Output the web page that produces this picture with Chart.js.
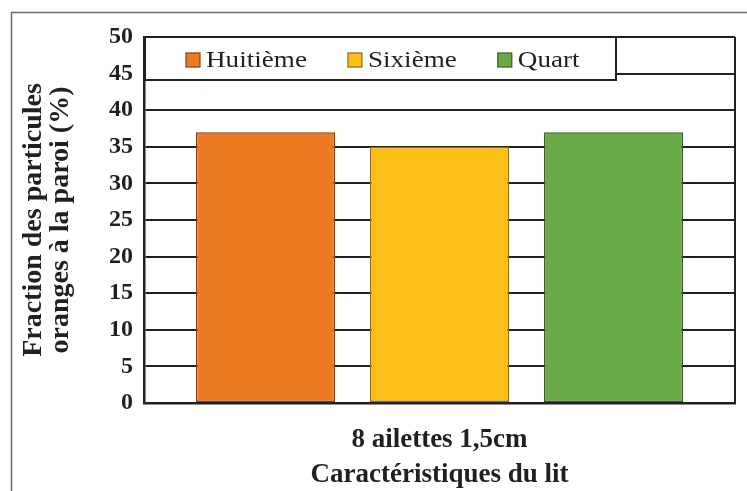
<!DOCTYPE html>
<html>
<head>
<meta charset="utf-8">
<script src="https://cdn.jsdelivr.net/npm/chart.js@4"></script>
<style>
  body { margin: 0; background: #fff; }
  canvas { display: block; }
</style>
</head>
<body>
<canvas id="fractionChart" width="747" height="491"></canvas>
<script>
// data
const categories = ["8 ailettes 1,5cm"];
const seriesNames = ["Huitième", "Sixième", "Quart"];
const huitieme = [37];
const sixieme = [35];
const quart = [37];
const yTitleLines = ["Fraction des particules", "oranges à la paroi (%)"];
const xTitle = "Caractéristiques du lit";

const ink = "#231f20";

// outer frame (left + top edges of the figure box)
const framePlugin = {
    id: "frame",
    beforeDraw(chart) {
        const ctx = chart.ctx;
        ctx.save();
        ctx.strokeStyle = "#6b6b6b";
        ctx.lineWidth = 1.5;
        ctx.beginPath();
        ctx.moveTo(11.5, 491);
        ctx.lineTo(11.5, 12.5);
        ctx.lineTo(747, 12.5);
        ctx.stroke();
        ctx.restore();
    }
};

// right border of the plot + boxed legend sitting over the top-left of the plot
const boxLegendPlugin = {
    id: "boxLegend",
    afterDraw(chart) {
        const ctx = chart.ctx;
        const area = chart.chartArea;
        ctx.save();
        ctx.strokeStyle = ink;
        ctx.lineWidth = 2;
        ctx.beginPath();
        ctx.moveTo(area.right, area.top);
        ctx.lineTo(area.right, area.bottom);
        ctx.stroke();

        // legend box
        const bx = area.left + 1, by = area.top, bw = 616 - bx, bh = 43;
        ctx.fillStyle = "#fff";
        ctx.fillRect(bx, by, bw, bh);
        ctx.lineWidth = 2;
        ctx.strokeRect(bx, by, bw, bh);

        ctx.font = "24px 'Liberation Serif'";
        ctx.textBaseline = "middle";
        let x = bx + 41;
        const cy = by + 23;
        chart.data.datasets.forEach(ds => {
            ctx.fillStyle = ds.backgroundColor;
            ctx.fillRect(x, cy - 7, 14, 14);
            ctx.strokeStyle = ds.borderColor;
            ctx.lineWidth = 1.2;
            ctx.strokeRect(x, cy - 7, 14, 14);
            const tx = x + 20;
            const stretch = 1.13;
            ctx.save();
            ctx.translate(tx, cy);
            ctx.scale(stretch, 1);
            ctx.fillStyle = ink;
            ctx.fillText(ds.label, 0, 1);
            ctx.restore();
            x = tx + ctx.measureText(ds.label).width * stretch + 41;
        });
        ctx.restore();
    }
};

const ctx = document.getElementById("fractionChart").getContext("2d");

new Chart(ctx, {
    type: "bar",
    data: {
        labels: categories,
        datasets: [
            {
                label: seriesNames[0],
                data: huitieme,
                backgroundColor: "#ed7b23",
                borderColor: "#8a4119",
                borderWidth: 1.5,
                borderSkipped: false
            },
            {
                label: seriesNames[1],
                data: sixieme,
                backgroundColor: "#fbbf16",
                borderColor: "#8f6c1c",
                borderWidth: 1.5,
                borderSkipped: false
            },
            {
                label: seriesNames[2],
                data: quart,
                backgroundColor: "#69aa46",
                borderColor: "#3a5a2a",
                borderWidth: 1.5,
                borderSkipped: false
            }
        ]
    },
    options: {
        responsive: false,
        animation: false,
        categoryPercentage: 0.883,
        barPercentage: 0.8,
        layout: { padding: { top: 37, right: 12, left: 0, bottom: 0 } },
        plugins: {
            legend: { display: false },
            tooltip: { enabled: false }
        },
        scales: {
            x: {
                grid: { display: false, drawTicks: false },
                border: { color: ink, width: 2.5 },
                ticks: {
                    color: ink,
                    padding: 21,
                    font: { family: "'Liberation Serif'", size: 27, weight: "bold" }
                },
                title: {
                    display: true,
                    text: xTitle,
                    color: ink,
                    padding: { top: 0, bottom: 0 },
                    font: { family: "'Liberation Serif'", size: 27, weight: "bold" }
                },
                afterFit(scale) { scale.height = 88; }
            },
            y: {
                min: 0,
                max: 50,
                grid: { color: ink, lineWidth: 2, drawTicks: false },
                border: { color: ink, width: 2.5 },
                ticks: {
                    stepSize: 5,
                    color: ink,
                    padding: 11,
                    font: { family: "'Liberation Serif'", size: 24, weight: "bold" }
                },
                title: {
                    display: true,
                    text: yTitleLines,
                    color: ink,
                    padding: { top: 20, bottom: 0 },
                    font: { family: "'Liberation Serif'", size: 28, weight: "bold", lineHeight: 0.97 }
                },
                afterFit(scale) { scale.width = 144; }
            }
        }
    },
    plugins: [framePlugin, boxLegendPlugin]
});
</script>
</body>
</html>
